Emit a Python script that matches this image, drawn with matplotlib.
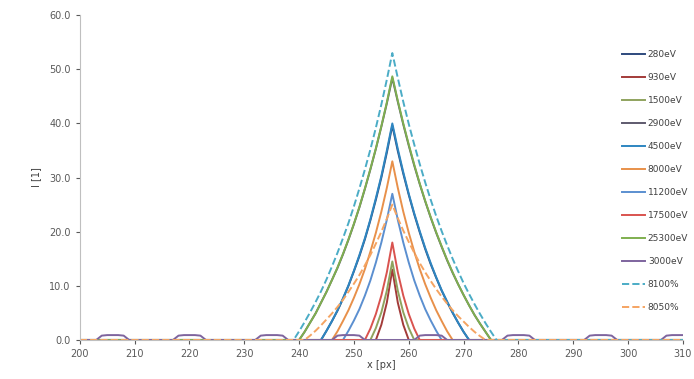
#-*- coding:utf-8 -*-
#
# x [px] - I [1] profiles for several energies
#
import numpy as np
import matplotlib.pyplot as plt

# x axis: pixel positions 200..310
x_px = np.arange(200, 311)

#
# profiles: (start pixel, values)
#
e280 = (244, [0.0, 1.7, 3.5, 5.4, 7.6, 10.0, 12.7, 15.5, 18.6, 22.1, 25.9, 30.0, 34.6, 39.6,
              34.9, 30.7, 26.8, 23.2, 19.9, 16.8, 14.0, 11.5, 9.1, 7.0, 5.0, 3.2, 1.5, 0.0])
e930 = (254, [0.0, 2.8, 6.9, 13.0, 6.9, 2.8, 0.0])
e1500 = (253, [0.0, 2.2, 5.1, 9.1, 14.5, 9.1, 5.1, 2.2, 0.0])
e2900 = (240, [0.0, 1.5, 3.2, 4.9, 6.9, 8.9, 11.1, 13.3, 15.8, 18.5, 21.4, 24.5, 27.9, 31.5,
               35.3, 39.4, 43.7, 48.4,
               44.0, 39.8, 35.9, 32.2, 28.8, 25.6, 22.6, 19.8, 17.2, 14.7, 12.4, 10.3,
               8.3, 6.4, 4.6, 3.0, 1.5, 0.0])
e4500 = (244, [0.0, 1.7, 3.5, 5.5, 7.7, 10.1, 12.8, 15.7, 18.8, 22.3, 26.2, 30.3, 35.0, 40.0,
               35.3, 31.0, 27.0, 23.4, 20.1, 17.0, 14.2, 11.6, 9.2, 7.1, 5.1, 3.2, 1.5, 0.0])
e8000 = (246, [0.0, 1.6, 3.5, 5.5, 7.8, 10.3, 13.1, 16.3, 19.8, 23.7, 28.1, 33.0,
               28.1, 23.7, 19.8, 16.3, 13.1, 10.3, 7.8, 5.5, 3.5, 1.6, 0.0])
e11200 = (248, [0.0, 1.7, 3.6, 5.7, 8.2, 11.0, 14.3, 18.0, 22.2, 27.0,
                22.2, 18.0, 14.3, 11.0, 8.2, 5.7, 3.6, 1.7, 0.0])
e17500 = (252, [0.0, 2.1, 4.8, 8.2, 12.5, 18.0, 12.5, 8.2, 4.8, 2.1, 0.0])
e25300 = (240, [0.0, 1.5, 3.2, 4.9, 6.9, 8.9, 11.1, 13.4, 15.9, 18.6, 21.5, 24.6, 28.0, 31.6,
                35.4, 39.5, 43.9, 48.7,
                44.2, 40.0, 36.1, 32.4, 28.9, 25.7, 22.7, 19.9, 17.3, 14.8, 12.5, 10.3,
                8.3, 6.4, 4.6, 3.0, 1.5, 0.0])
# 3000eV: small periodic bumps
bump = [0.0, 0.8, 0.9, 0.9, 0.9, 0.8, 0.0]
bump_starts = [203, 217, 232, 246, 261, 277, 292, 306]
# 8100% / 8050%
p8100 = (239, [0.0, 1.6, 3.3, 5.1, 7.0, 9.0, 11.2, 13.6, 16.1, 18.8, 21.6, 24.7, 28.0, 31.5,
               35.2, 39.2, 43.5, 48.1, 53.0,
               48.4, 44.0, 39.9, 36.1, 32.5, 29.1, 25.9, 22.9, 20.1, 17.5, 15.0, 12.7,
               10.5, 8.5, 6.6, 4.8, 3.1, 1.5, 0.0])
p8050 = (241, [0.0, 0.8, 1.7, 2.7, 3.8, 4.9, 6.1, 7.4, 8.9, 10.4, 12.0, 13.8, 15.7, 17.8,
               20.0, 22.4, 25.0,
               22.5, 20.2, 18.1, 16.1, 14.2, 12.5, 10.9, 9.4, 8.0, 6.7, 5.5, 4.4, 3.4,
               2.4, 1.5, 0.7, 0.0])


# zero baseline + profile
def profile(start, vals):
    y = np.zeros(len(x_px))
    i0 = start - x_px[0]
    y[i0:i0 + len(vals)] = vals
    return y


y3000 = np.zeros(len(x_px))
for s in bump_starts:
    for k, v in enumerate(bump):
        if s + k <= x_px[-1]:
            y3000[s + k - x_px[0]] = v

# label, data, color, style
series = [
    ('280eV', profile(*e280), '#2E4A7D', '-'),
    ('930eV', profile(*e930), '#A33B39', '-'),
    ('1500eV', profile(*e1500), '#8FA35E', '-'),
    ('2900eV', profile(*e2900), '#5E5A6E', '-'),
    ('4500eV', profile(*e4500), '#2E86C1', '-'),
    ('8000eV', profile(*e8000), '#E8904A', '-'),
    ('11200eV', profile(*e11200), '#5B8FD0', '-'),
    ('17500eV', profile(*e17500), '#D9534F', '-'),
    ('25300eV', profile(*e25300), '#7FAF4F', '-'),
    ('3000eV', y3000, '#7E649E', '-'),
    ('8100%', profile(*p8100), '#4BACC6', '--'),
    ('8050%', profile(*p8050), '#F5A462', '--'),
]

#
# --- plot ---
#
fig = plt.figure(figsize=(6.94, 3.79), dpi=100)
ax = fig.add_axes([0.115, 0.103, 0.869, 0.857])

for label, y, c, ls in series:
    ax.plot(x_px, y, color=c, linestyle=ls, linewidth=1.4, label=label)

ax.set_xlim(200, 310)
ax.set_ylim(0, 60)
ax.set_xticks(np.arange(200, 311, 10))
ax.set_yticks(np.arange(0, 61, 10))
ax.set_yticklabels(['%.1f' % v for v in np.arange(0, 61, 10)])
ax.tick_params(labelsize=7, colors='#595959', length=3)
for s in ['top', 'right']:
    ax.spines[s].set_visible(False)
for s in ['left', 'bottom']:
    ax.spines[s].set_color('#BFBFBF')
ax.set_xlabel('x [px]', fontsize=7, color='#404040', labelpad=1)
ax.set_ylabel('I [1]', fontsize=7, color='#404040', labelpad=6)

fig.legend(loc='upper left', bbox_to_anchor=(0.884, 0.89), frameon=False,
           fontsize=6.5, labelspacing=1.55, handlelength=2.6, handletextpad=0.3,
           labelcolor='#404040')

fig.savefig('out.png', dpi=100)
